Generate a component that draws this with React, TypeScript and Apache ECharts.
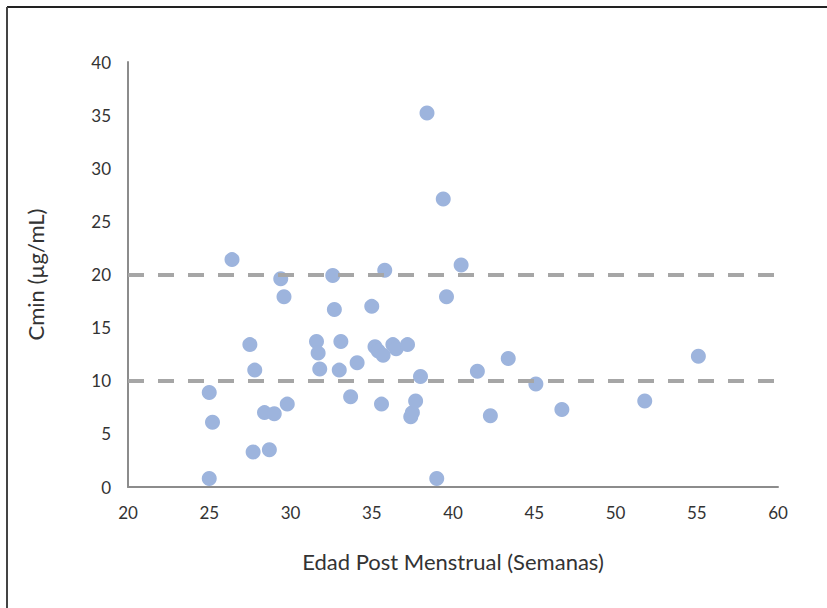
import React, { useEffect, useRef } from "react";
import * as echarts from "echarts";

const edadPM: number[] = [
  25.0, 25.2, 25.0, 26.4, 27.5, 27.8, 27.7, 28.4, 28.7, 29.0, 29.4, 29.6, 29.8,
  31.6, 31.7, 31.8, 32.6, 32.7, 33.0, 33.1, 33.7, 34.1, 35.0, 35.2, 35.4, 35.7,
  35.6, 35.8, 36.3, 36.5, 37.2, 37.4, 37.5, 37.7, 38.0, 38.4, 39.0, 39.4, 39.6,
  40.5, 41.5, 42.3, 43.4, 45.1, 46.7, 51.8, 55.1,
];
const cmin: number[] = [
  8.9, 6.1, 0.8, 21.4, 13.4, 11.0, 3.3, 7.0, 3.5, 6.9, 19.6, 17.9, 7.8,
  13.7, 12.6, 11.1, 19.9, 16.7, 11.0, 13.7, 8.5, 11.7, 17.0, 13.2, 12.8, 12.4,
  7.8, 20.4, 13.4, 13.0, 13.4, 6.6, 7.0, 8.1, 10.4, 35.2, 0.8, 27.1, 17.9,
  20.9, 10.9, 6.7, 12.1, 9.7, 7.3, 8.1, 12.3,
];
const thresholds: number[] = [10, 20];
const xTicks = { min: 20, max: 60, interval: 5 };
const yTicks = { min: 0, max: 40, interval: 5 };

const FONT = "Lato, 'Open Sans', sans-serif";
const TEXT = "#333333";

export default function App() {
  const ref = useRef<HTMLDivElement>(null);
  useEffect(() => {
    document.body.style.margin = "0";
    if (!ref.current) return;
    const chart = echarts.init(ref.current, undefined, { renderer: "svg" });
    const points = edadPM.map((x, i) => [x, cmin[i]]);
    chart.setOption({
      animation: false,
      backgroundColor: "#ffffff",
      textStyle: { fontFamily: FONT },
      grid: { left: 128, right: 49, top: 62, bottom: 121, containLabel: false },
      xAxis: {
        type: "value",
        min: xTicks.min,
        max: xTicks.max,
        interval: xTicks.interval,
        name: "Edad Post Menstrual (Semanas)",
        nameLocation: "middle",
        nameGap: 63,
        nameTextStyle: { fontSize: 22, color: TEXT, fontFamily: FONT },
        axisLine: { show: true, lineStyle: { color: "#8c8c8c", width: 2 } },
        axisTick: { show: false },
        splitLine: { show: false },
        axisLabel: { fontSize: 17, color: TEXT, margin: 17, fontFamily: FONT },
      },
      yAxis: {
        type: "value",
        min: yTicks.min,
        max: yTicks.max,
        interval: yTicks.interval,
        name: "Cmin (µg/mL)",
        nameLocation: "middle",
        nameGap: 82,
        nameRotate: 90,
        nameTextStyle: { fontSize: 22, color: TEXT, fontFamily: FONT },
        axisLine: { show: true, lineStyle: { color: "#8c8c8c", width: 2 } },
        axisTick: { show: false },
        splitLine: { show: false },
        axisLabel: { fontSize: 17, color: TEXT, margin: 17, fontFamily: FONT },
      },
      series: [
        {
          type: "scatter",
          data: [],
          z: 1,
          silent: true,
          markLine: {
            silent: true,
            symbol: "none",
            label: { show: false },
            lineStyle: { color: "#a6a6a6", width: 4, type: [16, 14] },
            data: thresholds.map((t) => ({ yAxis: t })),
          },
        },
        {
          type: "scatter",
          z: 3,
          symbol: "circle",
          symbolSize: 15,
          itemStyle: { color: "#9db4dd", opacity: 1 },
          data: points,
        },
      ],
      graphic: [
        {
          type: "line",
          shape: { x1: 7, y1: 7, x2: 827, y2: 7 },
          style: { stroke: "#222222", lineWidth: 2 },
        },
        {
          type: "line",
          shape: { x1: 7, y1: 7, x2: 7, y2: 608 },
          style: { stroke: "#444444", lineWidth: 2 },
        },
      ],
    });
    return () => chart.dispose();
  }, []);
  return <div ref={ref} style={{ width: 827, height: 608 }} />;
}
